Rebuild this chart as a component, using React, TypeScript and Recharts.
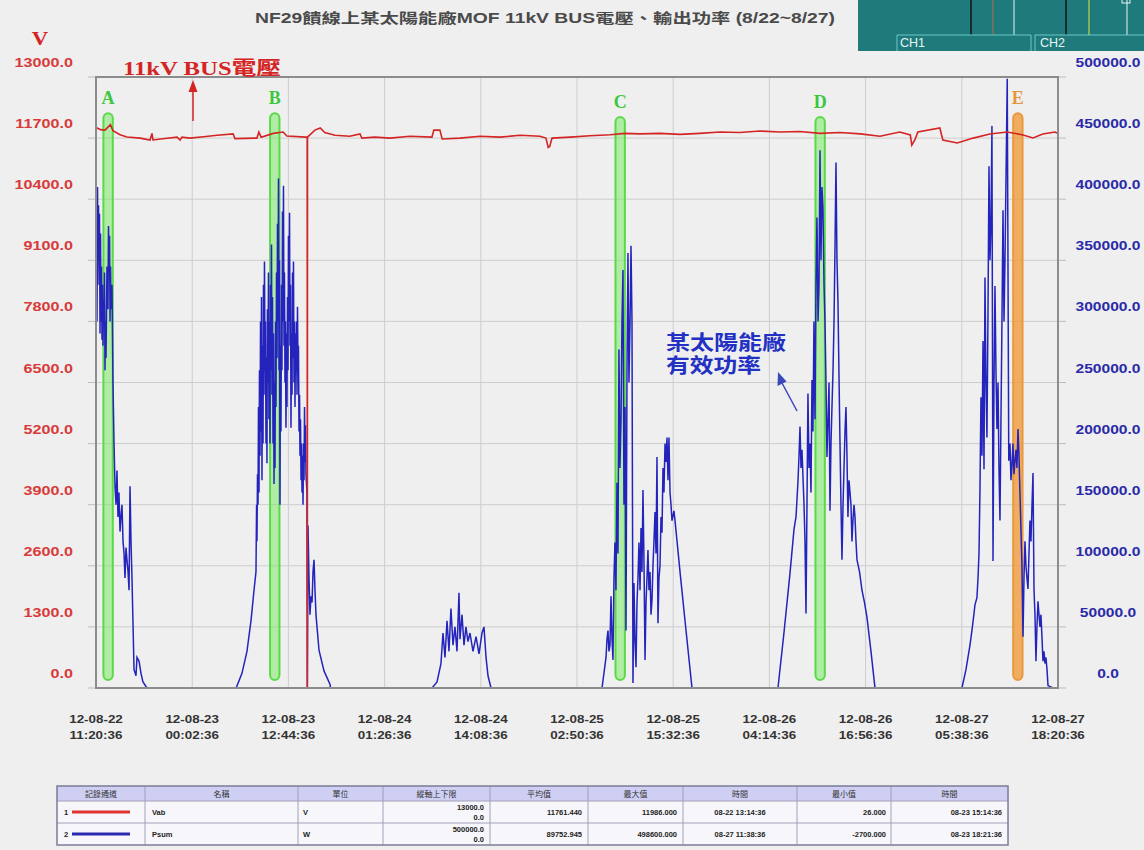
import React from 'react'
import { ComposedChart, Line, XAxis, YAxis, CartesianGrid, ReferenceArea } from 'recharts'

// x axis: hours since 12-08-22 11:20:36, one tick every 12h42m
const tickHours = [0, 12.7, 25.4, 38.1, 50.8, 63.5, 76.2, 88.9, 101.6, 114.3, 127]
const tickDates = ['12-08-22', '12-08-23', '12-08-23', '12-08-24', '12-08-24', '12-08-25', '12-08-25', '12-08-26', '12-08-26', '12-08-27', '12-08-27']
const tickTimes = ['11:20:36', '00:02:36', '12:44:36', '01:26:36', '14:08:36', '02:50:36', '15:32:36', '04:14:36', '16:56:36', '05:38:36', '18:20:36']

const voltTicks = [0, 1300, 2600, 3900, 5200, 6500, 7800, 9100, 10400, 11700, 13000]
const powerTicks = [0, 50000, 100000, 150000, 200000, 250000, 300000, 350000, 400000, 450000, 500000]

// Vab (V) : [hour, volts]
const vab: [number, number][] = [
  [0, 11900], [0.13, 11915], [0.6, 11880], [1.19, 11870], [1.9, 11986], [2.24, 11860], [3.17, 11770], [4.09, 11725],
  [5.81, 11700], [7.13, 11660], [7.39, 11800], [7.52, 11660], [9.1, 11690], [10.7, 11720], [11.1, 11660], [11.35, 11720],
  [12.4, 11700], [14.2, 11730], [16.0, 11760], [18.1, 11790], [18.35, 11690], [21.25, 11700], [21.5, 11830], [21.8, 11720], [23.4, 11800],
  [24.7, 11830], [25.2, 11745], [27.7, 11720], [27.88, 11720], [27.9, 26], [27.92, 11720], [28.9, 11870], [29.6, 11915],
  [30.2, 11820], [31.55, 11760], [33.5, 11740], [34.85, 11790], [35.1, 11700], [36.8, 11720], [38.8, 11700], [41.45, 11740], [44.35, 11720],
  [44.6, 11870], [45.4, 11870], [45.7, 11680], [48.05, 11700], [50.7, 11740], [53.3, 11720], [56.0, 11760], [58.6, 11740],
  [59.4, 11700], [59.7, 11500], [59.9, 11520], [60.2, 11700], [62.6, 11720], [65.2, 11750], [67.9, 11770], [69.8, 11800],
  [71.8, 11790], [74.45, 11800], [77.1, 11780], [79.7, 11800], [82.4, 11830], [85.0, 11820], [87.65, 11850], [90.3, 11830],
  [92.9, 11840], [95.6, 11800], [98.2, 11820], [100.9, 11790], [103.5, 11740], [106.1, 11830], [107.5, 11766], [107.7, 11550],
  [108.1, 11660], [108.5, 11830], [111.4, 11915], [111.8, 11660], [113.7, 11596], [115.8, 11700], [118.0, 11787], [120.3, 11830],
  [122.4, 11766], [123.7, 11702], [125.0, 11787], [126.6, 11830], [127, 11800],
]

// Psum (W) : [hour, watts], one array per day
const psum0822: [number, number][] = [
  [0, 265000], [0.07, 340000], [0.13, 300000], [0.2, 410000], [0.26, 330000], [0.33, 395000], [0.4, 350000], [0.46, 388000],
  [0.53, 290000], [0.6, 372000], [0.66, 300000], [0.73, 345000], [0.79, 285000], [0.86, 330000], [0.92, 280000], [0.99, 318000],
  [1.06, 300000], [1.12, 340000], [1.19, 260000], [1.25, 300000], [1.32, 270000], [1.45, 345000], [1.58, 310000], [1.65, 378000],
  [1.72, 340000], [1.79, 370000], [1.85, 300000], [1.92, 345000], [1.98, 310000], [2.11, 330000], [2.24, 250000], [2.38, 200000],
  [2.51, 165000], [2.64, 150000], [2.77, 178000], [2.9, 140000], [3.03, 160000], [3.17, 128000], [3.3, 140000], [3.43, 150000],
  [3.57, 120000], [3.7, 110000], [3.83, 90000], [3.96, 115000], [4.09, 105000], [4.23, 95000], [4.36, 80000], [4.49, 165000],
  [4.62, 120000], [4.75, 90000], [5.02, 15000], [5.28, 10000], [5.41, 25000], [5.68, 22000], [5.94, 12000], [6.2, 5000], [6.73, 0],
]
const psum0823: [number, number][] = [
  [18.5, 0], [19.27, 12000], [19.93, 30000], [20.46, 55000], [20.86, 80000], [21.12, 95000], [21.2, 150000], [21.25, 120000],
  [21.32, 175000], [21.39, 150000], [21.45, 230000], [21.52, 160000], [21.58, 260000], [21.65, 190000], [21.72, 300000], [21.78, 210000],
  [21.85, 320000], [21.91, 170000], [21.98, 280000], [22.05, 200000], [22.11, 330000], [22.18, 240000], [22.24, 349000], [22.31, 260000],
  [22.37, 300000], [22.44, 200000], [22.5, 270000], [22.57, 184000], [22.63, 310000], [22.7, 250000], [22.77, 340000], [22.83, 220000],
  [22.9, 300000], [22.97, 200000], [23.03, 330000], [23.1, 260000], [23.17, 363000], [23.23, 240000], [23.3, 320000], [23.37, 200000],
  [23.43, 290000], [23.5, 167000], [23.57, 250000], [23.63, 180000], [23.7, 300000], [23.76, 230000], [23.83, 340000], [23.9, 270000],
  [23.96, 380000], [24.03, 300000], [24.09, 417000], [24.16, 260000], [24.22, 350000], [24.29, 150000], [24.35, 280000], [24.42, 210000],
  [24.49, 330000], [24.55, 260000], [24.62, 390000], [24.69, 300000], [24.75, 411000], [24.82, 280000], [24.88, 340000], [24.95, 250000],
  [25.01, 300000], [25.08, 213000], [25.15, 290000], [25.21, 230000], [25.28, 320000], [25.35, 260000], [25.41, 370000], [25.48, 300000],
  [25.55, 389000], [25.61, 280000], [25.68, 330000], [25.74, 213000], [25.81, 290000], [25.88, 240000], [25.94, 340000], [26.01, 270000],
  [26.07, 349000], [26.14, 250000], [26.2, 300000], [26.27, 230000], [26.34, 290000], [26.4, 259000], [26.47, 300000], [26.54, 240000],
  [26.6, 312000], [26.67, 260000], [26.73, 280000], [26.8, 210000], [26.87, 240000], [26.93, 190000], [27.0, 220000], [27.07, 170000],
  [27.13, 200000], [27.2, 160000], [27.27, 190000], [27.33, 150000], [27.4, 200000], [27.46, 170000], [27.53, 230000], [27.59, 185000],
  [27.66, 215000], [27.72, 175000], [27.85, 160000], [27.9, 0], [27.99, 133000], [28.12, 90000], [28.25, 60000], [28.38, 75000],
  [28.52, 70000], [28.65, 95000], [28.78, 105000], [28.91, 80000], [29.04, 60000], [29.44, 31000], [30.1, 14000], [30.9, 3000],
  [31.02, -2700], [31.3, 0],
]
const psum0824: [number, number][] = [
  [44.36, 0], [45.02, 5000], [45.54, 20000], [45.81, 45000], [46.07, 25000], [46.34, 55000], [46.6, 30000], [46.86, 65000],
  [47.13, 35000], [47.39, 50000], [47.66, 30000], [47.92, 78000], [48.05, 40000], [48.32, 60000], [48.58, 35000], [48.84, 50000],
  [49.11, 38000], [49.37, 45000], [49.77, 30000], [50.17, 42000], [50.56, 28000], [50.96, 45000], [51.22, 50000], [51.49, 25000],
  [51.75, 10000], [52.15, 0],
]
const psum0825: [number, number][] = [
  [66.8, 0], [67.33, 25000], [67.46, 40000], [67.59, 47000], [67.72, 30000], [67.85, 35000], [67.99, 75000], [68.12, 40000],
  [68.25, 23000], [68.38, 90000], [68.51, 119000], [68.64, 80000], [68.78, 168000], [68.91, 110000], [69.04, 277000], [69.17, 180000],
  [69.31, 220000], [69.44, 300000], [69.57, 342000], [69.7, 150000], [69.84, 230000], [69.97, 47000], [70.1, 260000], [70.23, 356000],
  [70.36, 250000], [70.5, 300000], [70.63, 362000], [70.76, 300000], [70.89, 4000], [71.02, 86000], [71.15, 40000], [71.29, 17000],
  [71.42, 70000], [71.55, 90000], [71.68, 119000], [71.82, 80000], [71.95, 131000], [72.08, 95000], [72.21, 162000], [72.35, 100000],
  [72.48, 23000], [72.61, 70000], [72.74, 90000], [72.87, 113000], [73.0, 80000], [73.14, 95000], [73.27, 60000], [73.4, 72000],
  [73.53, 100000], [73.66, 120000], [73.8, 144000], [73.93, 110000], [74.06, 189000], [74.19, 53000], [74.32, 90000], [74.46, 100000],
  [74.59, 140000], [74.72, 127000], [74.85, 180000], [74.98, 160000], [75.12, 200000], [75.25, 185000], [75.38, 205000], [75.51, 170000],
  [75.64, 205000], [75.78, 160000], [75.91, 150000], [76.04, 137000], [76.3, 145000], [76.44, 137000], [77.1, 95000], [77.76, 55000],
  [78.68, 0],
]
const psum0826: [number, number][] = [
  [90.03, 0], [90.82, 45000], [91.62, 94000], [92.15, 130000], [92.41, 140000], [92.54, 154000], [92.68, 170000], [92.81, 190000],
  [92.94, 214000], [93.07, 180000], [93.2, 195000], [93.33, 173000], [93.47, 150000], [93.6, 120000], [93.73, 61000], [93.86, 150000],
  [93.99, 241000], [94.13, 180000], [94.26, 200000], [94.39, 160000], [94.52, 252000], [94.65, 210000], [94.78, 300000], [94.92, 220000],
  [95.05, 330000], [95.18, 385000], [95.32, 300000], [95.45, 330000], [95.58, 440000], [95.71, 350000], [95.84, 410000], [95.97, 393000],
  [96.11, 330000], [96.24, 300000], [96.37, 250000], [96.5, 189000], [96.64, 220000], [96.77, 250000], [96.9, 145000], [97.03, 200000],
  [97.16, 230000], [97.3, 260000], [97.43, 300000], [97.56, 360000], [97.69, 430000], [97.82, 350000], [97.95, 317000], [98.09, 254000],
  [98.22, 200000], [98.35, 150000], [98.48, 105000], [98.62, 150000], [98.75, 180000], [98.88, 210000], [99.01, 230000], [99.14, 190000],
  [99.27, 140000], [99.41, 170000], [99.54, 160000], [99.67, 150000], [99.8, 120000], [99.93, 137000], [100.07, 150000], [100.2, 140000],
  [100.33, 120000], [100.46, 105000], [100.8, 95000], [101.12, 80000], [101.45, 70000], [101.78, 58000], [102.31, 30000], [102.84, 0],
]
const psum0827: [number, number][] = [
  [114.32, 0], [114.85, 15000], [115.38, 35000], [115.7, 50000], [116.04, 68000], [116.3, 74000], [116.44, 90000], [116.57, 110000],
  [116.7, 163000], [116.83, 238000], [116.96, 190000], [117.1, 284000], [117.23, 179000], [117.36, 336000], [117.49, 250000], [117.62, 205000],
  [117.75, 300000], [117.89, 427000], [118.02, 350000], [118.15, 380000], [118.28, 460000], [118.42, 104000], [118.55, 250000], [118.68, 329000],
  [118.81, 260000], [118.94, 212000], [119.08, 250000], [119.21, 180000], [119.34, 137000], [119.47, 220000], [119.6, 300000], [119.74, 391000],
  [119.87, 300000], [120.0, 350000], [120.3, 498600], [120.5, 186000], [120.66, 200000], [120.79, 170000], [120.92, 182000], [121.05, 200000],
  [121.19, 175000], [121.32, 186000], [121.45, 195000], [121.58, 180000], [121.72, 212000], [121.85, 190000], [121.98, 159000], [122.11, 130000],
  [122.24, 100000], [122.38, 42000], [122.51, 90000], [122.64, 120000], [122.77, 100000], [122.9, 90000], [123.04, 81000], [123.17, 110000],
  [123.3, 137000], [123.43, 120000], [123.57, 150000], [123.7, 176000], [123.83, 81000], [123.96, 60000], [124.09, 22000], [124.22, 50000],
  [124.36, 71000], [124.49, 60000], [124.62, 50000], [124.75, 60000], [124.88, 42000], [125.02, 22000], [125.15, 30000], [125.28, 20000],
  [125.41, 25000], [125.55, 15000], [125.68, 2000], [126.34, 0], [127, 0],
]

// highlighted moments
const markerLabels = ['A', 'B', 'C', 'D', 'E']
const markerHours = [1.6, 23.6, 69.2, 95.6, 121.7]

// summary table
const tableHeads = ['記錄通道', '名稱', '單位', '縱軸上下限', '平均值', '最大值', '時間', '最小值', '時間']
const channelNames = ['Vab', 'Psum']
const channelUnits = ['V', 'W']
const axisMax = ['13000.0', '500000.0']
const avgValues = ['11761.440', '89752.945']
const maxValues = ['11986.000', '498600.000']
const maxTimes = ['08-22 13:14:36', '08-27 11:38:36']
const minValues = ['26.000', '-2700.000']
const minTimes = ['08-23 15:14:36', '08-23 18:21:36']

const vabData = vab.map(([t, v]) => ({ t, v }))
const psumData = [...psum0822, ...psum0823, ...psum0824, ...psum0825, ...psum0826, ...psum0827].map(([t, p]) => ({ t, p }))

const RED = '#d42424'
const BLUE = '#2424bc'
const SANS = '"Liberation Sans", Arial, "Noto Sans CJK TC", sans-serif'
const SERIF = '"Liberation Serif", "Times New Roman", "Noto Sans CJK TC", serif'

// text squeezed/stretched horizontally around its anchor
function SText({ x, y, sx = 1, anchor = 'start', children, ...rest }: any) {
  return (
    <text transform={`translate(${x} ${y}) scale(${sx} 1)`} textAnchor={anchor} {...rest}>
      {children}
    </text>
  )
}

const LeftTick = ({ y, payload }: any) => (
  <SText x={73} y={y - 10} sx={1.35} anchor="end" fill="#d83a3a" fontSize={12} fontWeight="bold" fontFamily={SANS}>
    {Number(payload.value).toFixed(1)}
  </SText>
)

const RightTick = ({ y, payload }: any) => (
  <SText x={1108} y={y - 10} sx={1.3} anchor="middle" fill="#2a2aa8" fontSize={12} fontWeight="bold" fontFamily={SANS}>
    {Number(payload.value).toFixed(1)}
  </SText>
)

const TimeTick = ({ x, payload }: any) => {
  const i = tickHours.findIndex((h) => Math.abs(h - payload.value) < 0.01)
  return (
    <g fill="#333" fontSize={11} fontWeight="bold" fontFamily={SANS}>
      <SText x={x} y={723} sx={1.22} anchor="middle">{tickDates[i]}</SText>
      <SText x={x} y={739} sx={1.22} anchor="middle">{tickTimes[i]}</SText>
    </g>
  )
}

const pill = (color: string, edge: string) => (p: any) => (
  <rect x={p.x} y={p.y} width={p.width} height={p.height} rx={5} ry={5} fill={color} stroke={edge} strokeWidth={2} />
)

function SummaryTable() {
  const cols = [57, 145, 298, 383, 490, 588, 683, 797, 891, 1008]
  const top = 786
  const headH = 15
  const rowH = 22
  const bottom = top + headH + rowH * 2
  const cell = { fill: '#222', fontSize: 7.5, fontWeight: 'bold', fontFamily: SANS } as any
  return (
    <g>
      <rect x={cols[0]} y={top} width={cols[9] - cols[0]} height={bottom - top} fill="#f7f7fb" />
      <rect x={cols[0]} y={top} width={cols[9] - cols[0]} height={headH} fill="#cfcff3" />
      {tableHeads.map((h, i) => (
        <text key={i} x={(cols[i] + cols[i + 1]) / 2} y={top + 11} textAnchor="middle" fontSize={8} fill="#333" fontFamily={SANS}>
          {h}
        </text>
      ))}
      {cols.slice(1, 9).map((c, i) => (
        <line key={i} x1={c} y1={top} x2={c} y2={bottom} stroke="#a0a0b8" strokeWidth={1} />
      ))}
      <line x1={cols[0]} y1={top + headH} x2={cols[9]} y2={top + headH} stroke="#a0a0b8" />
      <line x1={cols[0]} y1={top + headH + rowH} x2={cols[9]} y2={top + headH + rowH} stroke="#a0a0b8" />
      <rect x={cols[0]} y={top} width={cols[9] - cols[0]} height={bottom - top} fill="none" stroke="#7c7c98" strokeWidth={1.5} />
      {channelNames.map((name, r) => {
        const y0 = top + headH + rowH * r
        const mid = y0 + rowH / 2 + 3
        return (
          <g key={name} {...cell}>
            <text x={64} y={mid}>{r + 1}</text>
            <line x1={72} y1={mid - 3} x2={130} y2={mid - 3} stroke={r === 0 ? '#e03434' : '#2b2bb0'} strokeWidth={3} />
            <text x={152} y={mid}>{name}</text>
            <text x={303} y={mid}>{channelUnits[r]}</text>
            <text x={484} y={y0 + 9} textAnchor="end">{axisMax[r]}</text>
            <text x={484} y={y0 + 19} textAnchor="end">0.0</text>
            <text x={582} y={mid} textAnchor="end">{avgValues[r]}</text>
            <text x={677} y={mid} textAnchor="end">{maxValues[r]}</text>
            <text x={740} y={mid} textAnchor="middle">{maxTimes[r]}</text>
            <text x={886} y={mid} textAnchor="end">{minValues[r]}</text>
            <text x={1002} y={mid} textAnchor="end">{minTimes[r]}</text>
          </g>
        )
      })}
    </g>
  )
}

function ScopeInset() {
  return (
    <g>
      <rect x={858} y={0} width={286} height={51} fill="#1f7b7b" />
      <line x1={971} y1={0} x2={971} y2={35} stroke="#111" strokeWidth={1.5} />
      <line x1={993} y1={0} x2={993} y2={35} stroke="#b06a58" strokeWidth={1} />
      <line x1={1014} y1={0} x2={1014} y2={35} stroke="#e8f4f4" strokeWidth={1} />
      <line x1={1066} y1={0} x2={1066} y2={35} stroke="#111" strokeWidth={1.5} />
      <line x1={1089} y1={0} x2={1089} y2={35} stroke="#e8e23a" strokeWidth={1} />
      <line x1={1127} y1={0} x2={1127} y2={35} stroke="#e8f4f4" strokeWidth={1} />
      <rect x={1122} y={-2} width={8} height={5} fill="none" stroke="#e8f4f4" />
      <path d="M897 51 V35 H1031 V51" fill="none" stroke="#6cc8c8" strokeWidth={1} />
      <path d="M1035 51 V35 H1146" fill="none" stroke="#6cc8c8" strokeWidth={1} />
      <text x={900} y={47} fill="#e6f6f6" fontSize={12.5} fontFamily={SANS}>CH1</text>
      <text x={1040} y={47} fill="#e6f6f6" fontSize={12.5} fontFamily={SANS}>CH2</text>
    </g>
  )
}

export default function App() {
  return (
    <div style={{ position: 'absolute', left: 0, top: 0, width: 1144, height: 850, background: '#efefef', overflow: 'hidden' }}>
      <ComposedChart width={1144} height={850} margin={{ top: 77, right: 0, bottom: 0, left: 0 }}>
        <CartesianGrid yAxisId="left" stroke="#cdcdcd" strokeWidth={1} />
        <XAxis
          type="number"
          dataKey="t"
          domain={[0, 127]}
          ticks={tickHours}
          interval={0}
          height={162}
          allowDataOverflow
          axisLine={{ stroke: '#8c8c8c', strokeWidth: 2 }}
          tickLine={false}
          tick={<TimeTick />}
        />
        <YAxis
          yAxisId="left"
          orientation="left"
          width={96}
          domain={[0, 13000]}
          ticks={voltTicks}
          interval={0}
          allowDataOverflow
          axisLine={{ stroke: '#8c8c8c', strokeWidth: 2 }}
          tickLine={{ stroke: '#bdbdbd' }}
          tickSize={8}
          tick={<LeftTick />}
        />
        <YAxis
          yAxisId="right"
          orientation="right"
          width={86}
          domain={[0, 500000]}
          ticks={powerTicks}
          interval={0}
          allowDataOverflow
          axisLine={{ stroke: '#8c8c8c', strokeWidth: 2 }}
          tickLine={{ stroke: '#bdbdbd' }}
          tickSize={8}
          tick={<RightTick />}
        />
        <Line
          data={psumData}
          dataKey="p"
          yAxisId="right"
          type="linear"
          stroke={BLUE}
          strokeWidth={1.5}
          dot={false}
          isAnimationActive={false}
        />
        <Line
          data={vabData}
          dataKey="v"
          yAxisId="left"
          type="linear"
          stroke={RED}
          strokeWidth={1.6}
          dot={false}
          isAnimationActive={false}
        />
        {markerHours.map((h, i) => {
          const last = i === markerHours.length - 1
          const top = i === 2 || i === 3 ? 12150 : 12230
          return (
            <ReferenceArea
              key={markerLabels[i]}
              yAxisId="left"
              x1={h - 0.62}
              x2={h + 0.62}
              y1={170}
              y2={top}
              ifOverflow="visible"
              shape={last ? pill('rgba(240,160,70,0.85)', '#e89a3c') : pill('rgba(120,235,100,0.55)', '#5cd84a')}
              label={{
                value: markerLabels[i],
                position: 'top',
                offset: 9,
                fill: last ? '#e5953a' : '#3cc83c',
                fontSize: 18,
                fontWeight: 'bold',
                fontFamily: SERIF,
              }}
            />
          )
        })}
      </ComposedChart>

      <svg width={1144} height={850} style={{ position: 'absolute', left: 0, top: 0, pointerEvents: 'none' }}>
        <text x={255} y={23} textLength={580} lengthAdjust="spacingAndGlyphs" fontSize={14} fontWeight="bold" fill="#4a4a4a" fontFamily={SANS}>
          NF29饋線上某太陽能廠MOF 11kV BUS電壓、輸出功率 (8/22~8/27)
        </text>
        <ScopeInset />
        <SText x={40} y={45} sx={1.2} anchor="middle" fill={RED} fontSize={19} fontWeight="bold" fontFamily={SERIF}>V</SText>
        <rect x={96} y={77} width={962} height={611} fill="none" stroke="#8c8c8c" strokeWidth={2} />

        <text x={123} y={75} textLength={158} lengthAdjust="spacingAndGlyphs" fill={RED} fontSize={19} fontWeight="bold" fontFamily={SERIF}>
          11kV BUS電壓
        </text>
        <line x1={193} y1={121} x2={193} y2={90} stroke={RED} strokeWidth={1.5} />
        <path d="M193 80 L188.5 92 L197.5 92 Z" fill={RED} />

        <g fill="#2230c4" fontSize={20} fontWeight="bold" fontFamily={SERIF}>
          <text x={666} y={350} textLength={120} lengthAdjust="spacingAndGlyphs">某太陽能廠</text>
          <text x={666} y={373} textLength={95} lengthAdjust="spacingAndGlyphs">有效功率</text>
        </g>
        <line x1={797} y1={411} x2={782} y2={383} stroke="#3a48b8" strokeWidth={1.5} />
        <path d="M778 372 L777.5 386 L786.5 381.5 Z" fill="#3a48b8" />

        <SummaryTable />
      </svg>
    </div>
  )
}
